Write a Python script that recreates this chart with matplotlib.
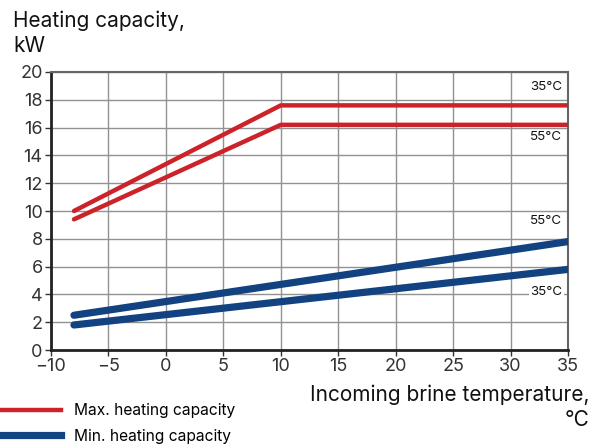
import matplotlib.pyplot as plt
from matplotlib.lines import Line2D

plt.rcParams['font.family'] = ['Inter', 'DejaVu Sans']

# data
max_x = [-8, 10, 35]
max_35 = [10.0, 17.6, 17.6]
max_55 = [9.4, 16.2, 16.2]

min_x = [-8, 35]
min_55 = [2.5, 7.8]
min_35 = [1.8, 5.8]

xticks = [-10, -5, 0, 5, 10, 15, 20, 25, 30, 35]
xticklabels = ['\u221210', '\u22125', '0', '5', '10', '15', '20', '25', '30', '35']
yticks = list(range(0, 21, 2))

red = '#cc2229'
blue = '#12427f'

fig = plt.figure(figsize=(6.02, 4.48), dpi=100)
ax = fig.add_axes([51 / 602, 1 - 350 / 448, (568 - 51) / 602, (350 - 72) / 448])

ax.plot(max_x, max_35, color=red, lw=3.2, solid_capstyle='round', zorder=3)
ax.plot(max_x, max_55, color=red, lw=3.2, solid_capstyle='round', zorder=3)
ax.plot(min_x, min_55, color=blue, lw=5.2, solid_capstyle='round', zorder=3)
ax.plot(min_x, min_35, color=blue, lw=5.2, solid_capstyle='round', zorder=3)

ax.set_xlim(-10, 35)
ax.set_ylim(0, 20)
ax.set_xticks(xticks)
ax.set_xticklabels(xticklabels)
ax.set_yticks(yticks)
ax.grid(True, color='#929292', lw=1)
ax.set_axisbelow(True)
ax.tick_params(labelsize=13, colors='#333333', length=4, width=1, pad=2)

for s in ['left', 'bottom']:
    ax.spines[s].set_color('#222222')
    ax.spines[s].set_linewidth(2)
for s in ['top', 'right']:
    ax.spines[s].set_color('#666666')
    ax.spines[s].set_linewidth(1.5)

lbl = dict(ha='right', va='center', fontsize=9.6, color='#111111', zorder=4)
ax.text(34.5, 18.9, '35°C', **lbl)
ax.text(34.5, 15.3, '55°C', **lbl)
ax.text(34.5, 9.3, '55°C', **lbl)
ax.text(34.5, 4.2, '35°C', bbox=dict(facecolor='white', edgecolor='none', pad=1), **lbl)

big = dict(fontsize=15, color='#111111', va='baseline')
fig.text(13 / 602, 1 - 27 / 448, 'Heating capacity,', ha='left', **big)
fig.text(13 / 602, 1 - 52 / 448, 'kW', ha='left', **big)
fig.text(590 / 602, 1 - 401 / 448, 'Incoming brine temperature,', ha='right', **big)
fig.text(590 / 602, 1 - 426 / 448, '°C', ha='right', **big)

handles = [Line2D([], [], color=red, lw=3.2), Line2D([], [], color=blue, lw=5.2)]
fig.legend(handles, ['Max. heating capacity', 'Min. heating capacity'],
           loc='lower left', bbox_to_anchor=(-0.03, -0.022), frameon=False,
           fontsize=11.2, handlelength=4.2, handletextpad=0.8, labelspacing=0.7)

fig.savefig('out.png', dpi=100)
